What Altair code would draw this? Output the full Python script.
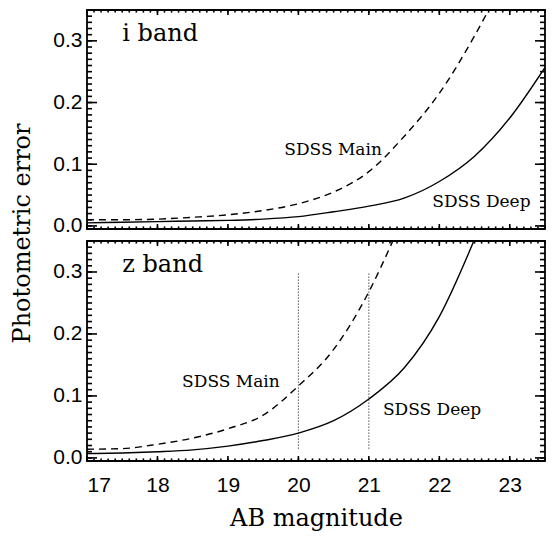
import altair as alt
import pandas as pd

# ---- data ----
# i band
i_main_mag = [17.0, 17.5, 18.0, 18.5, 19.0, 19.5, 20.0, 20.5, 21.0, 21.5, 22.0, 22.5, 22.7]
i_main_err = [0.010, 0.010, 0.011, 0.014, 0.018, 0.025, 0.036, 0.055, 0.088, 0.145, 0.215, 0.308, 0.350]
i_deep_mag = [17.0, 17.5, 18.0, 18.5, 19.0, 19.5, 20.0, 20.5, 21.0, 21.5, 22.0, 22.5, 23.0, 23.5]
i_deep_err = [0.005, 0.006, 0.007, 0.008, 0.009, 0.011, 0.015, 0.023, 0.032, 0.045, 0.072, 0.113, 0.175, 0.257]
# z band
z_main_mag = [17.0, 17.5, 18.0, 18.5, 19.0, 19.5, 20.0, 20.5, 21.0, 21.34]
z_main_err = [0.014, 0.015, 0.022, 0.032, 0.047, 0.069, 0.116, 0.175, 0.268, 0.350]
z_deep_mag = [17.0, 17.5, 18.0, 18.5, 19.0, 19.5, 20.0, 20.5, 21.0, 21.5, 22.0, 22.49]
z_deep_err = [0.007, 0.008, 0.010, 0.013, 0.019, 0.028, 0.040, 0.060, 0.095, 0.145, 0.228, 0.350]
# dotted limit markers (z band)
limit_mag = [20.0, 21.0]
limit_lo = [0.015, 0.015]
limit_hi = [0.30, 0.30]

# annotations
band_i = ["i band"]
band_z = ["z band"]
band_x = [17.5]
band_y = [0.30]
i_labels = ["SDSS Main", "SDSS Deep"]
i_label_x = [19.8, 21.9]
i_label_y = [0.115, 0.03]
z_labels = ["SDSS Main", "SDSS Deep"]
z_label_x = [18.35, 21.2]
z_label_y = [0.115, 0.07]

# axis ticks
major_x = [17, 18, 19, 20, 21, 22, 23]
minor_x = [round(17 + 0.1 * k, 1) for k in range(66)]
major_y = [0.0, 0.1, 0.2, 0.3]
minor_y = [round(0.01 * k, 2) for k in range(36)]

X_DOMAIN = [17.0, 23.5]
Y_DOMAIN = [-0.005, 0.35]
W = 458
H_TOP = 219
H_BOT = 220


def tick_frame(H):
    """Inward tick segments (major and minor) on all four sides, in data units."""
    xspan = X_DOMAIN[1] - X_DOMAIN[0]
    yspan = Y_DOMAIN[1] - Y_DOMAIN[0]
    rows = []
    for vals, plen in ((major_x, 5.0), (minor_x, 2.6)):
        dy = plen / H * yspan
        for v in vals:
            rows.append(dict(x0=v, x1=v, y0=Y_DOMAIN[0], y1=Y_DOMAIN[0] + dy))
            rows.append(dict(x0=v, x1=v, y0=Y_DOMAIN[1], y1=Y_DOMAIN[1] - dy))
    for vals, plen in ((major_y, 10.0), (minor_y, 5.0)):
        dx = plen / W * xspan
        for v in vals:
            rows.append(dict(x0=X_DOMAIN[0], x1=X_DOMAIN[0] + dx, y0=v, y1=v))
            rows.append(dict(x0=X_DOMAIN[1], x1=X_DOMAIN[1] - dx, y0=v, y1=v))
    return pd.DataFrame(rows)


def panel(main_mag, main_err, deep_mag, deep_err, band, labels, lx, ly, H,
          x_labeled, y_title, rules_df=None):
    xs = alt.Scale(domain=X_DOMAIN, nice=False, zero=False)
    ys = alt.Scale(domain=Y_DOMAIN, nice=False, zero=False)

    if x_labeled:
        x_axis = alt.Axis(values=major_x, format="d", labelFont="Liberation Sans",
                          labelFontSize=21, labelColor="black", labelPadding=13,
                          ticks=False, tickSize=0, domain=False, grid=False,
                          title="AB magnitude", titleFont="DejaVu Serif", titleFontSize=24,
                          titleFontWeight="normal", titleColor="black", titleY=64,
                          titleBaseline="alphabetic")
    else:
        x_axis = None

    y_kw = dict(values=major_y, format=".1f", labelFont="Liberation Sans",
                labelFontSize=21, labelColor="black", labelPadding=5,
                ticks=False, tickSize=0, domain=False, grid=False)
    if y_title:
        y_kw.update(title="Photometric error", titleFont="DejaVu Serif", titleFontSize=24,
                    titleFontWeight="normal", titleColor="black", titleX=-65, titleY=223,
                    titleAngle=270, titleAlign="center", titleBaseline="middle")
    else:
        y_kw.update(title=None)
    y_axis = alt.Axis(**y_kw)

    ticks = alt.Chart(tick_frame(H)).mark_rule(color="black", strokeWidth=1.6).encode(
        x=alt.X("x0:Q", scale=xs, axis=x_axis),
        x2="x1",
        y=alt.Y("y0:Q", scale=ys, axis=y_axis),
        y2="y1",
    )

    main = alt.Chart(pd.DataFrame({"mag": main_mag, "err": main_err})).mark_line(
        color="black", strokeWidth=1.4, strokeDash=[7, 5], interpolate="monotone",
        clip=True).encode(
        x=alt.X("mag:Q", scale=xs), y=alt.Y("err:Q", scale=ys))
    deep = alt.Chart(pd.DataFrame({"mag": deep_mag, "err": deep_err})).mark_line(
        color="black", strokeWidth=1.4, interpolate="monotone", clip=True).encode(
        x=alt.X("mag:Q", scale=xs), y=alt.Y("err:Q", scale=ys))

    band_t = alt.Chart(pd.DataFrame({"label": band, "mag": band_x, "err": band_y})).mark_text(
        align="left", baseline="alphabetic", font="DejaVu Serif", fontSize=24,
        color="black").encode(
        x=alt.X("mag:Q", scale=xs), y=alt.Y("err:Q", scale=ys), text="label:N")
    lab_t = alt.Chart(pd.DataFrame({"label": labels, "mag": lx, "err": ly})).mark_text(
        align="left", baseline="alphabetic", font="DejaVu Serif", fontSize=17,
        color="black").encode(
        x=alt.X("mag:Q", scale=xs), y=alt.Y("err:Q", scale=ys), text="label:N")

    layers = [ticks, main, deep, band_t, lab_t]
    if rules_df is not None:
        rules = alt.Chart(rules_df).mark_rule(color="black", strokeDash=[1, 2],
                                              strokeWidth=1).encode(
            x=alt.X("mag:Q", scale=xs),
            y=alt.Y("lo:Q", scale=ys),
            y2="hi",
        )
        layers.append(rules)
    return alt.layer(*layers).properties(width=W, height=H)


lim_df = pd.DataFrame({"mag": limit_mag, "lo": limit_lo, "hi": limit_hi})

top = panel(i_main_mag, i_main_err, i_deep_mag, i_deep_err, band_i, i_labels,
            i_label_x, i_label_y, H_TOP, x_labeled=False, y_title=True)
bottom = panel(z_main_mag, z_main_err, z_deep_mag, z_deep_err, band_z, z_labels,
               z_label_x, z_label_y, H_BOT, x_labeled=True, y_title=False, rules_df=lim_df)

chart = alt.vconcat(top, bottom, spacing=12, bounds="flush").properties(
    padding={"left": 1, "top": 0, "right": 0, "bottom": 0},
    background="white",
).configure_view(stroke="black", strokeWidth=1.8)

chart.save("out.html", embed_options={"renderer": "svg", "actions": False})
